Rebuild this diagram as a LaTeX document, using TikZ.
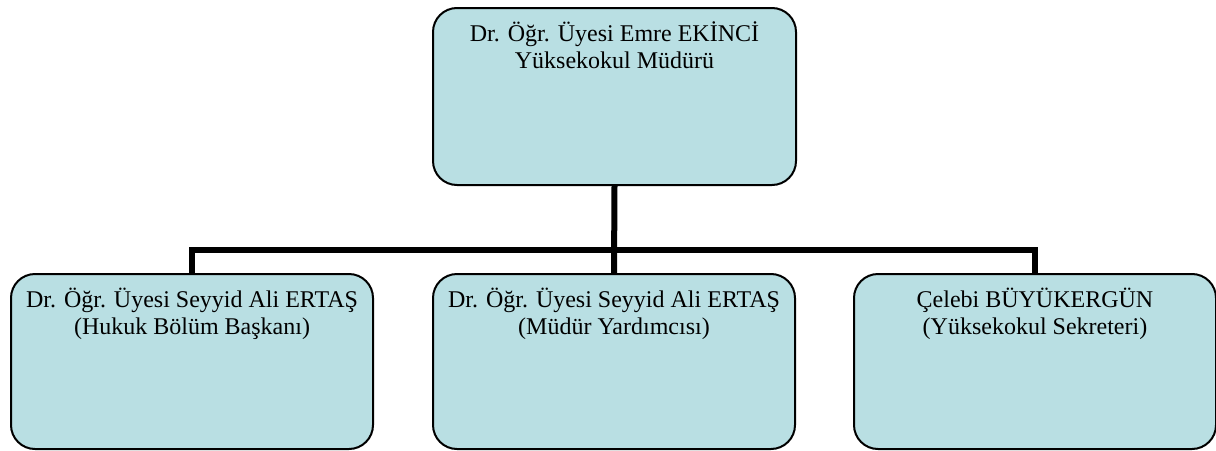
\documentclass[tikz,border=0pt]{standalone}
\usepackage{fontspec}
\setmainfont{Liberation Serif}
\definecolor{boxfill}{HTML}{B9DFE3}
\tikzset{
  orgbox/.style={draw=black, line width=2pt, fill=boxfill, rounded corners=24pt, inner sep=0pt, anchor=north west},
  conn/.style={draw=black, line width=6pt, line join=miter}
}
\newcommand{\boxtext}[4]{\parbox[c][#2][t]{#1}{\centering\fontsize{24pt}{27.5pt}\selectfont\rule{0pt}{33pt}#3\\#4}}
\begin{document}
\begin{tikzpicture}[x=1pt,y=1pt]
\useasboundingbox (0,0) rectangle (1216,-450);
\node[orgbox] (top) at (432,-7) {\boxtext{363pt}{177pt}{Dr. Öğr. Üyesi Emre EKİNCİ}{Yüksekokul Müdürü}};
\node[orgbox] (left) at (10,-273) {\boxtext{362pt}{175pt}{Dr. Öğr. Üyesi Seyyid Ali ERTAŞ}{(Hukuk Bölüm Başkanı)}};
\node[orgbox] (mid) at (432,-273) {\boxtext{362pt}{175pt}{Dr. Öğr. Üyesi Seyyid Ali ERTAŞ}{(Müdür Yardımcısı)}};
\node[orgbox] (right) at (853,-273) {\boxtext{362pt}{175pt}{Çelebi BÜYÜKERGÜN}{(Yüksekokul Sekreteri)}};
\coordinate (bus) at (613,-250);
\draw[conn] (top.south) -- (mid.north);
\draw[conn] (left.north) -- (left.north |- bus) -- (right.north |- bus) -- (right.north);
\end{tikzpicture}
\end{document}
